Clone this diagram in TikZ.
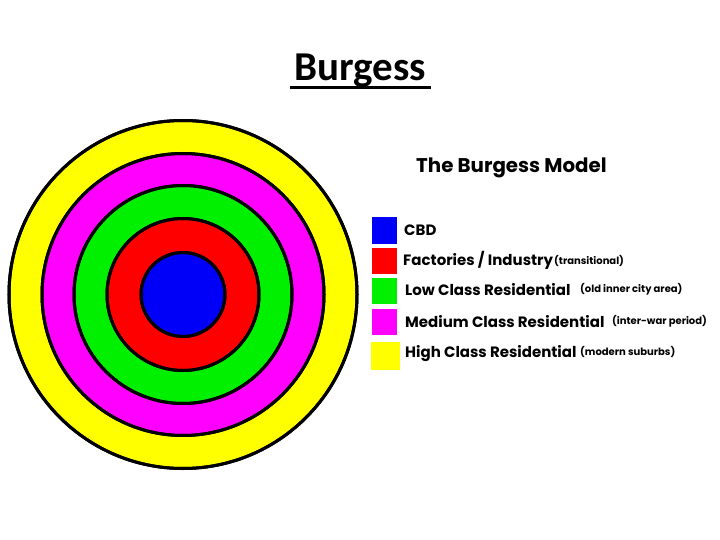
\documentclass[tikz,border=0pt]{standalone}
\usepackage{fontspec}
\setmainfont{Poppins}
\newfontfamily\titlefont{Carlito}
\definecolor{zblue}{RGB}{0,0,250}
\definecolor{zred}{RGB}{255,0,0}
\definecolor{zgreen}{RGB}{0,240,0}
\definecolor{zmag}{RGB}{255,0,255}
\definecolor{zyel}{RGB}{255,255,0}
\begin{document}
\begin{tikzpicture}[x=1pt,y=-1pt,
  ring/.style={draw=black,line width=3pt},
  swatch/.style={minimum width=25pt,minimum height=26pt,inner sep=0pt,anchor=center},
  lab/.style={anchor=west,inner sep=0pt,font=\fontsize{15}{15}\selectfont\bfseries},
  sub/.style={anchor=west,inner sep=0pt,font=\fontsize{10}{10}\selectfont\bfseries}]
\useasboundingbox[fill=white] (0,0) rectangle (720,540);
% title
\node[inner sep=0pt,anchor=base,font=\titlefont\fontsize{41}{41}\selectfont\bfseries] (title) at (360,81) {Burgess};
\draw[line width=2.5pt] (290,87.5) -- (431,87.5);
% rings
\fill[ring,fill=zyel] (183,294.5) circle (174);
\fill[ring,fill=zmag] (183,294.5) circle (141);
\fill[ring,fill=zgreen] (183,294.5) circle (109);
\fill[ring,fill=zred] (183,294.5) circle (76);
\fill[ring,fill=zblue] (183,294.5) circle (42);
\draw[ring] (183,294.5) circle (174);
\draw[ring] (183,294.5) circle (141);
\draw[ring] (183,294.5) circle (109);
\draw[ring] (183,294.5) circle (76);
\draw[ring] (183,294.5) circle (42);
% legend
\node[anchor=west,inner sep=0pt,font=\fontsize{19.8}{19.8}\selectfont\bfseries] (head) at (416,168) {The Burgess Model};
\node[swatch,fill=zblue] (s1) at (384.5,230.5) {};
\node[swatch,fill=zred] (s2) at (384.5,260.5) {};
\node[swatch,fill=zgreen] (s3) at (384.5,290.5) {};
\node[swatch,fill=zmag] (s4) at (384.5,321.5) {};
\node[swatch,fill=zyel,minimum width=29pt,minimum height=28pt] (s5) at (385,356) {};
\node[lab] (l1) at (404,230) {CBD};
\node[lab] (l2) at (403,260) {Factories / Industry};
\node[sub] (d2) at (554,261) {(transitional)};
\node[lab] (l3) at (405,289.5) {Low Class Residential};
\node[sub] (d3) at (580,289) {(old inner city area)};
\node[lab] (l4) at (405,322) {Medium Class Residential};
\node[sub] (d4) at (612,321) {(inter-war period)};
\node[lab] (l5) at (405,354) {High Class Residential};
\node[sub] (d5) at (580,352) {(modern suburbs)};
\end{tikzpicture}
\end{document}
